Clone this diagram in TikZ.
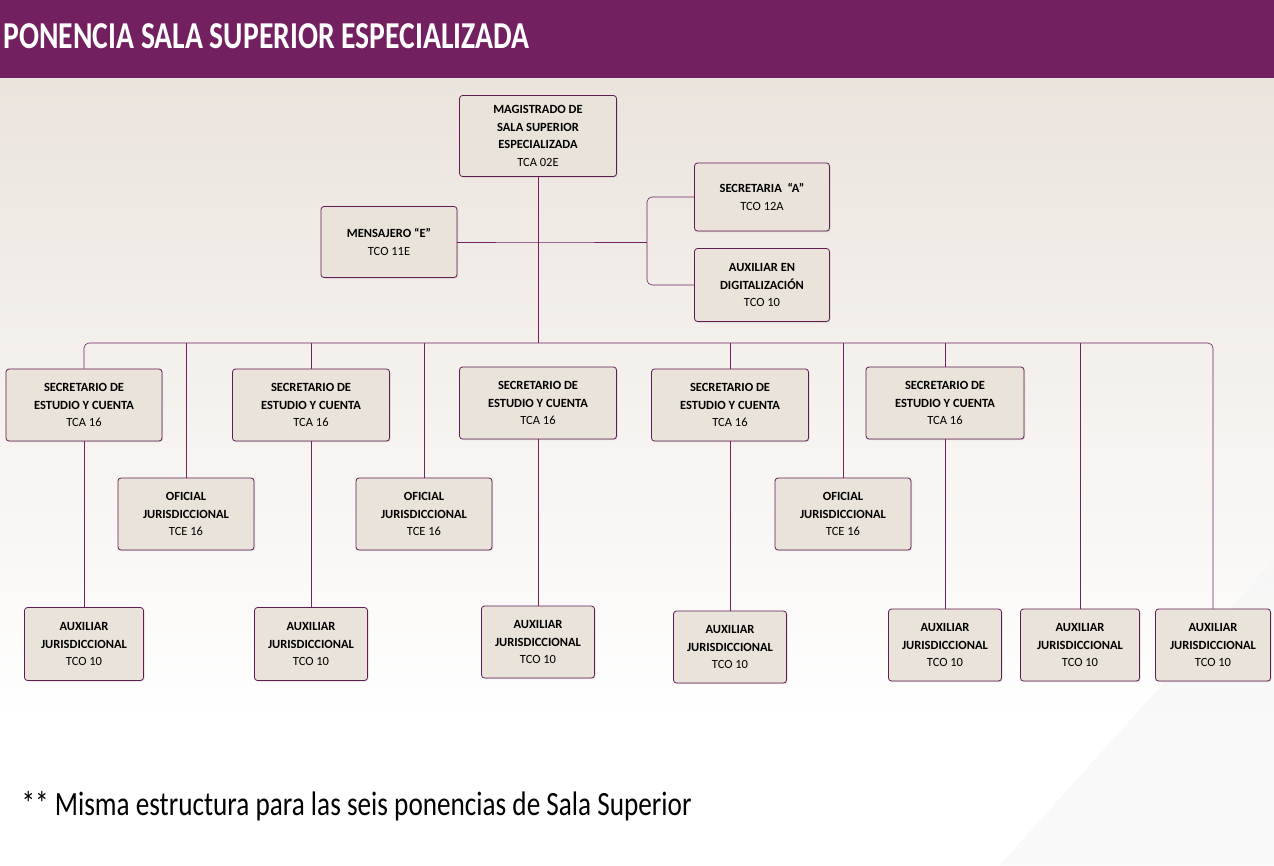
\documentclass[tikz,border=0pt]{standalone}
\usepackage{fontspec}
\setmainfont{Carlito}
\usetikzlibrary{shadows}
\definecolor{ponpurple}{HTML}{722060}
\definecolor{boxfill}{HTML}{E9E3D9}
\definecolor{bgtop}{HTML}{EBE4DD}
\tikzset{
  puesto/.style={draw=ponpurple!85!black, fill=boxfill, rounded corners=3pt, thick,
    align=center, font=\fontsize{12.5}{17.5}\selectfont\bfseries, inner sep=0pt,
    drop shadow={opacity=0.25, shadow xshift=1pt, shadow yshift=-1pt}},
  liga/.style={draw=ponpurple, line width=0.6pt, rounded corners=5pt}
}
\begin{document}
\begin{tikzpicture}[x=1pt,y=-1pt]
\useasboundingbox (0,0) rectangle (1274,865);
% fondo
\shade[top color=bgtop, bottom color=white] (0,78) rectangle (1274,720);
\fill[white] (0,720) rectangle (1274,865);
\fill[black!4, opacity=0.6] (1274,560) -- (1000,865) -- (1274,865) -- cycle;
% barra del titulo
\fill[ponpurple] (0,0) rectangle (1274,78);
\node[anchor=west, text=white, font=\fontsize{38}{40}\selectfont\bfseries] (titulo) at (0,36)
  {\scalebox{0.78}[1]{PONENCIA SALA SUPERIOR ESPECIALIZADA}};

%%% cabeza
\node[puesto, minimum width=157, minimum height=81] (mag) at (538,136)
  {MAGISTRADO DE\\SALA SUPERIOR\\ESPECIALIZADA\\\mdseries TCA 02E};
\node[puesto, minimum width=136, minimum height=71] (mens) at (389,242) {MENSAJERO “E”\\\mdseries TCO 11E};
\node[puesto, minimum width=135, minimum height=68] (secA) at (762,197) {SECRETARIA \ “A”\\\mdseries TCO 12A};
\node[puesto, minimum width=135, minimum height=73] (digit) at (762,285) {AUXILIAR EN\\DIGITALIZACIÓN\\\mdseries TCO 10};

%%% secretarios
\node[puesto, minimum width=156, minimum height=72] (sec1) at (84,405) {SECRETARIO DE\\ESTUDIO Y CUENTA\\\mdseries TCA 16};
\node[puesto, minimum width=157, minimum height=72] (sec2) at (311,405) {SECRETARIO DE\\ESTUDIO Y CUENTA\\\mdseries TCA 16};
\node[puesto, minimum width=157, minimum height=72] (sec3) at (538,403) {SECRETARIO DE\\ESTUDIO Y CUENTA\\\mdseries TCA 16};
\node[puesto, minimum width=157, minimum height=72] (sec4) at (730,405) {SECRETARIO DE\\ESTUDIO Y CUENTA\\\mdseries TCA 16};
\node[puesto, minimum width=158, minimum height=72] (sec5) at (945,403) {SECRETARIO DE\\ESTUDIO Y CUENTA\\\mdseries TCA 16};

%%% oficiales
\node[puesto, minimum width=136, minimum height=72] (of1) at (186,514) {OFICIAL\\JURISDICCIONAL\\\mdseries TCE 16};
\node[puesto, minimum width=136, minimum height=72] (of2) at (424,514) {OFICIAL\\JURISDICCIONAL\\\mdseries TCE 16};
\node[puesto, minimum width=136, minimum height=72] (of3) at (843,514) {OFICIAL\\JURISDICCIONAL\\\mdseries TCE 16};

%%% auxiliares
\node[puesto, minimum width=119, minimum height=73] (aux1) at (84,644) {AUXILIAR\\JURISDICCIONAL\\\mdseries TCO 10};
\node[puesto, minimum width=113, minimum height=73] (aux2) at (311,644) {AUXILIAR\\JURISDICCIONAL\\\mdseries TCO 10};
\node[puesto, minimum width=113, minimum height=72] (aux3) at (538,642) {AUXILIAR\\JURISDICCIONAL\\\mdseries TCO 10};
\node[puesto, minimum width=113, minimum height=72] (aux4) at (730,647) {AUXILIAR\\JURISDICCIONAL\\\mdseries TCO 10};
\node[puesto, minimum width=113, minimum height=72] (aux5) at (945,645) {AUXILIAR\\JURISDICCIONAL\\\mdseries TCO 10};
\node[puesto, minimum width=119, minimum height=72] (aux6) at (1080,645) {AUXILIAR\\JURISDICCIONAL\\\mdseries TCO 10};
\node[puesto, minimum width=115, minimum height=72] (aux7) at (1213,645) {AUXILIAR\\JURISDICCIONAL\\\mdseries TCO 10};

%%% lineas
\coordinate (bus) at (538,343);
\coordinate (hop) at (538,242);
\coordinate (rama) at (647,242);
\draw[liga] (mag.south) -- (bus);
\draw[liga] (mens.east) -- (hop) -- (rama);
\draw[liga] (secA.west) -| (rama) |- (digit.west);
\draw[liga] (sec1.north) |- (bus) -| (aux7.north);
\foreach \n in {of1,sec2,of2,sec4,of3,sec5,aux6}
  \draw[liga] (\n.north) -- (\n.north |- bus);
\foreach \a/\b in {sec1/aux1,sec2/aux2,sec3/aux3,sec4/aux4,sec5/aux5}
  \draw[liga] (\a.south) -- (\b.north);

%%% nota
\node[anchor=west, font=\fontsize{34}{36}\selectfont] (nota) at (18,806)
  {\scalebox{0.8}[1]{** Misma estructura para las seis ponencias de Sala Superior}};
\end{tikzpicture}
\end{document}
